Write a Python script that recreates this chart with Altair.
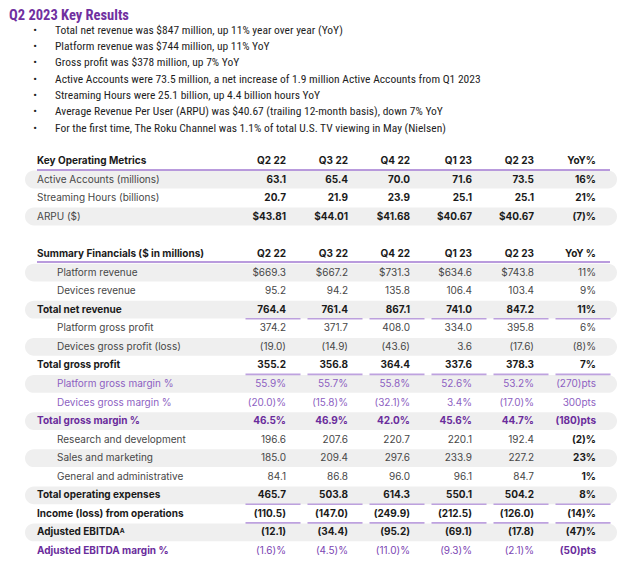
import altair as alt
import pandas as pd

# ---------------- data ----------------
title_text = "Q2 2023 Key Results"
bullets = [
    "Total net revenue was $847 million, up 11% year over year (YoY)",
    "Platform revenue was $744 million, up 11% YoY",
    "Gross profit was $378 million, up 7% YoY",
    "Active Accounts were 73.5 million, a net increase of 1.9 million Active Accounts from Q1 2023",
    "Streaming Hours were 25.1 billion, up 4.4 billion hours YoY",
    "Average Revenue Per User (ARPU) was $40.67 (trailing 12-month basis), down 7% YoY",
    "For the first time, The Roku Channel was 1.1% of total U.S. TV viewing in May (Nielsen)",
]

col_keys = ["Q2 22", "Q3 22", "Q4 22", "Q1 23", "Q2 23", "YoY"]

kom_header = "Key Operating Metrics"
kom_col_headers = ["Q2 22", "Q3 22", "Q4 22", "Q1 23", "Q2 23", "YoY%"]
kom_labels = ["Active Accounts (millions)", "Streaming Hours (billions)", "ARPU ($)"]
active_accounts = ["63.1", "65.4", "70.0", "71.6", "73.5", "16%"]
streaming_hours = ["20.7", "21.9", "23.9", "25.1", "25.1", "21%"]
arpu = ["$43.81", "$44.01", "$41.68", "$40.67", "$40.67", "(7)%"]

fin_header = "Summary Financials ($ in millions)"
fin_col_headers = ["Q2 22", "Q3 22", "Q4 22", "Q1 23", "Q2 23", "YoY %"]
fin_labels = [
    "Platform revenue", "Devices revenue", "Total net revenue",
    "Platform gross profit", "Devices gross profit (loss)", "Total gross profit",
    "Platform gross margin %", "Devices gross margin %", "Total gross margin %",
    "Research and development", "Sales and marketing", "General and administrative",
    "Total operating expenses", "Income (loss) from operations",
    "Adjusted EBITDA\u1d2c", "Adjusted EBITDA margin %",
]
platform_revenue = ["$669.3", "$667.2", "$731.3", "$634.6", "$743.8", "11%"]
devices_revenue = ["95.2", "94.2", "135.8", "106.4", "103.4", "9%"]
total_net_revenue = ["764.4", "761.4", "867.1", "741.0", "847.2", "11%"]
platform_gross_profit = ["374.2", "371.7", "408.0", "334.0", "395.8", "6%"]
devices_gross_profit = ["(19.0)", "(14.9)", "(43.6)", "3.6", "(17.6)", "(8)%"]
total_gross_profit = ["355.2", "356.8", "364.4", "337.6", "378.3", "7%"]
platform_gross_margin = ["55.9%", "55.7%", "55.8%", "52.6%", "53.2%", "(270)pts"]
devices_gross_margin = ["(20.0)%", "(15.8)%", "(32.1)%", "3.4%", "(17.0)%", "300pts"]
total_gross_margin = ["46.5%", "46.9%", "42.0%", "45.6%", "44.7%", "(180)pts"]
research_dev = ["196.6", "207.6", "220.7", "220.1", "192.4", "(2)%"]
sales_marketing = ["185.0", "209.4", "297.6", "233.9", "227.2", "23%"]
general_admin = ["84.1", "86.8", "96.0", "96.1", "84.7", "1%"]
total_opex = ["465.7", "503.8", "614.3", "550.1", "504.2", "8%"]
income_ops = ["(110.5)", "(147.0)", "(249.9)", "(212.5)", "(126.0)", "(14)%"]
adj_ebitda = ["(12.1)", "(34.4)", "(95.2)", "(69.1)", "(17.8)", "(47)%"]
adj_ebitda_margin = ["(1.6)%", "(4.5)%", "(11.0)%", "(9.3)%", "(2.1)%", "(50)pts"]

fin_rows = [platform_revenue, devices_revenue, total_net_revenue,
            platform_gross_profit, devices_gross_profit, total_gross_profit,
            platform_gross_margin, devices_gross_margin, total_gross_margin,
            research_dev, sales_marketing, general_admin,
            total_opex, income_ops, adj_ebitda, adj_ebitda_margin]
fin_kind = ["sub", "sub", "total", "sub", "sub", "total", "psub", "psub", "ptotal",
            "sub", "sub", "sub", "total", "total", "total", "pmargin"]
fin_underlined = [3, 6, 13, 14]
fin_bold_yoy = [10, 11, 12]

# ---------------- style ----------------
TFONT = "Inter, Roboto, sans-serif"
BFONT = "Liberation Sans Narrow, Roboto Condensed, Roboto, sans-serif"
GRAY = "#474747"
BLACK = "#1a1a1a"
PURPLE_L = "#8d5fc2"
PURPLE_M = "#7b45b3"
PURPLE_D = "#6a2c9c"
LINE = "#a27ad2"
SHADE = "#efefef"
TITLE = "#7030a0"
W = 624

LABEL_X = 29
INDENT_X = 49
SHADE_X0, SHADE_X1 = 17, 609
LINE_X0, LINE_X1 = 29, 602

xcol = alt.X("col:N", scale=alt.Scale(type="point", domain=col_keys, range=[278, 588], padding=0), axis=None)


def yenc(domain, rng):
    return alt.Y("r:Q", scale=alt.Scale(domain=domain, range=rng, nice=False, zero=False), axis=None)


def texts(df, y, x, align, weight, size=10, font=TFONT):
    return alt.Chart(df).mark_text(font=font, fontSize=size, fontWeight=weight, align=align,
                                   baseline="middle").encode(
        x=x, y=y, text="t:N", color=alt.Color("c:N", scale=None))


# ---------------- section A: title + bullets ----------------
bul_df = pd.DataFrame({"r": list(range(1, len(bullets) + 1)), "t": bullets, "c": "#1e1e1e"})
yA = yenc([1, 7], [21.5, 119.5])
title_layer = alt.Chart(pd.DataFrame({"t": [title_text]})).mark_text(
    font=BFONT, fontSize=14.5, fontWeight="bold", align="left", baseline="top", color=TITLE
).encode(x=alt.value(1), y=alt.value(0), text="t:N")
dot_layer = alt.Chart(bul_df).mark_text(font=BFONT, fontSize=11, align="center", baseline="middle",
                                        color="#1e1e1e").encode(
    x=alt.value(27), y=yA, text=alt.value("\u2022"))
bul_layer = texts(bul_df, yA, alt.value(47), "left", "normal", size=11.5, font=BFONT)
secA = alt.layer(title_layer, dot_layer, bul_layer).properties(width=W, height=142)

# ---------------- section B: key operating metrics ----------------
b_dom, b_rng = [0, 3], [10, 65.5]
yB = yenc(b_dom, b_rng)
kom_vals = [active_accounts, streaming_hours, arpu]
b_head = pd.DataFrame({"r": 0, "col": col_keys, "t": kom_col_headers, "c": BLACK})
b_vals = pd.DataFrame([{"r": i + 1, "col": col_keys[j], "t": v, "c": BLACK}
                       for i, row in enumerate(kom_vals) for j, v in enumerate(row)])
b_labels = pd.DataFrame({"r": [1, 2, 3], "t": kom_labels, "c": GRAY})
b_hlabel = pd.DataFrame({"r": [0], "t": [kom_header], "c": BLACK})
b_shade = pd.DataFrame({"r": [1, 3]})

shadeB = alt.Chart(b_shade).transform_calculate(lo="datum.r - 0.48", hi="datum.r + 0.48").mark_rect(
    cornerRadius=9, color=SHADE).encode(
    x=alt.value(SHADE_X0), x2=alt.value(SHADE_X1),
    y=alt.Y("lo:Q", scale=alt.Scale(domain=b_dom, range=b_rng, nice=False, zero=False), axis=None),
    y2="hi:Q")
lineB = alt.Chart(pd.DataFrame({"r": [0]})).mark_rule(color=LINE, strokeWidth=1.5, yOffset=9).encode(
    x=alt.value(LINE_X0), x2=alt.value(LINE_X1), y=yB)
secB = alt.layer(
    shadeB, lineB,
    texts(b_hlabel, yB, alt.value(LABEL_X), "left", "bold"),
    texts(b_head, yB, xcol, "right", "bold"),
    texts(b_labels, yB, alt.value(LABEL_X), "left", "normal"),
    texts(b_vals, yB, xcol, "right", "bold"),
).properties(width=W, height=85)

# ---------------- section C: summary financials ----------------
c_dom, c_rng = [0, 16], [18, 315]
yC = yenc(c_dom, c_rng)
recs = []
lab = []
for i, (kind, vals) in enumerate(zip(fin_kind, fin_rows), start=1):
    for j, v in enumerate(vals):
        if kind == "sub":
            w, c = ("bold", BLACK) if (j == 5 and i in fin_bold_yoy) else ("normal", GRAY)
        elif kind == "total":
            w, c = "bold", BLACK
        elif kind == "psub":
            w, c = "normal", PURPLE_L
        elif kind == "ptotal":
            w, c = "bold", PURPLE_D
        else:  # pmargin
            w, c = ("bold", PURPLE_D) if j == 5 else ("normal", PURPLE_M)
        recs.append({"r": i, "col": col_keys[j], "t": v, "w": w, "c": c})
    indent = kind in ("sub", "psub")
    lw = "normal" if indent else "bold"
    lc = {"sub": GRAY, "total": BLACK, "psub": PURPLE_L, "ptotal": PURPLE_D, "pmargin": PURPLE_D}[kind]
    lab.append({"r": i, "t": fin_labels[i - 1], "w": lw, "c": lc, "ind": indent})
c_vals = pd.DataFrame(recs)
c_lab = pd.DataFrame(lab)
c_head = pd.DataFrame({"r": 0, "col": col_keys, "t": fin_col_headers, "c": BLACK})
c_hlabel = pd.DataFrame({"r": [0], "t": [fin_header], "c": BLACK})
c_shade = pd.DataFrame({"r": list(range(1, 17, 2))})
c_under = pd.DataFrame([{"r": r, "col": k} for r in fin_underlined for k in col_keys])

shadeC = alt.Chart(c_shade).transform_calculate(lo="datum.r - 0.48", hi="datum.r + 0.48").mark_rect(
    cornerRadius=9, color=SHADE).encode(
    x=alt.value(SHADE_X0), x2=alt.value(SHADE_X1),
    y=alt.Y("lo:Q", scale=alt.Scale(domain=c_dom, range=c_rng, nice=False, zero=False), axis=None),
    y2="hi:Q")
lineC = alt.Chart(pd.DataFrame({"r": [0]})).mark_rule(color=LINE, strokeWidth=1.5, yOffset=8).encode(
    x=alt.value(LINE_X0), x2=alt.value(LINE_X1), y=yC)
underC = alt.Chart(c_under).mark_tick(orient="horizontal", size=55, thickness=1.6, color=LINE,
                                      xOffset=-13, yOffset=9).encode(x=xcol, y=yC)

layersC = [shadeC, lineC, underC,
           texts(c_hlabel, yC, alt.value(LABEL_X), "left", "bold"),
           texts(c_head, yC, xcol, "right", "bold")]
for ind in (True, False):
    for w in ("normal", "bold"):
        sub = c_lab[(c_lab["ind"] == ind) & (c_lab["w"] == w)]
        if len(sub):
            layersC.append(texts(sub, yC, alt.value(INDENT_X if ind else LABEL_X), "left", w))
for w in ("normal", "bold"):
    sub = c_vals[c_vals["w"] == w]
    layersC.append(texts(sub, yC, xcol, "right", w))
secC = alt.layer(*layersC).properties(width=W, height=318)

chart = alt.vconcat(secA, secB, secC, spacing=0, bounds="flush").properties(
    padding=0
).configure_view(stroke=None)

chart.save("out.html", embed_options={"renderer": "svg", "actions": False})
